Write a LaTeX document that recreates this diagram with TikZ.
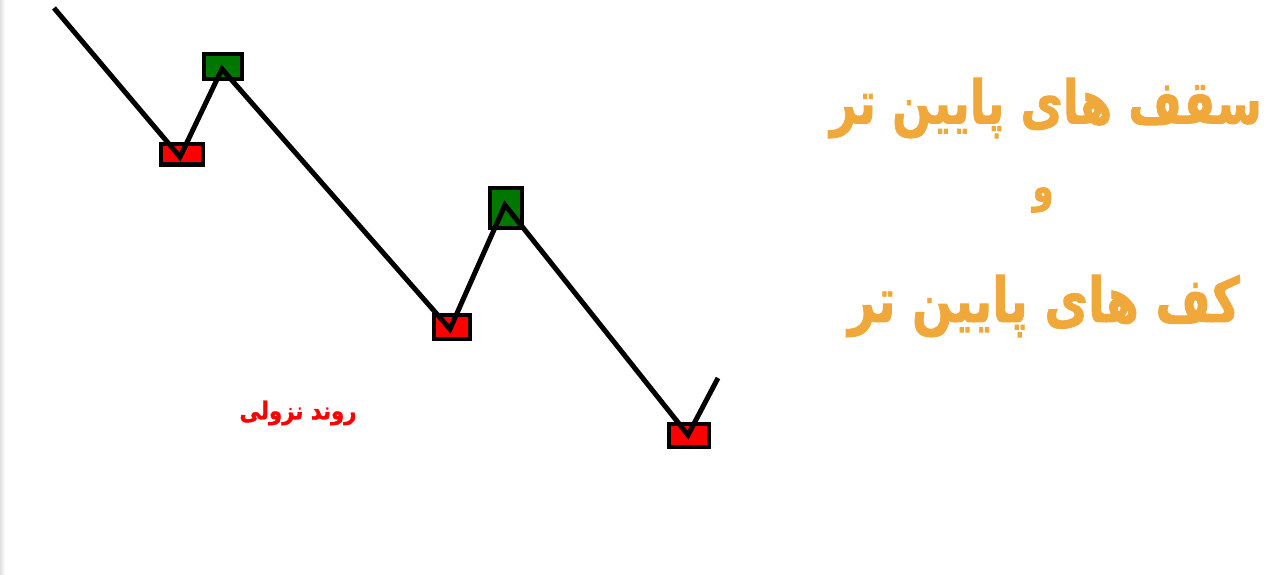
\documentclass[tikz,border=0pt]{standalone}
\usepackage{fontspec}
\usepackage{graphicx}
\TeXXeTstate=1
\newfontfamily\arabicfont[Script=Arabic,FakeBold=1.5]{DejaVu Sans}
\definecolor{titleorange}{RGB}{240,168,58}
\definecolor{pivotgreen}{RGB}{0,120,0}
\definecolor{pivotred}{RGB}{255,0,0}
\tikzset{
  pivotbox/.style={draw=black, line width=4pt, inner sep=0pt, rectangle},
  lowbox/.style={pivotbox, fill=pivotred},
  highbox/.style={pivotbox, fill=pivotgreen},
  trendline/.style={draw=black, line width=5pt, line join=miter},
  titletext/.style={text=titleorange, inner sep=0pt},
}
\begin{document}
\begin{tikzpicture}[x=1pt, y=-1pt]
\useasboundingbox (0,0) rectangle (1277,575);
\fill[white] (0,0) rectangle (1277,575);
\shade[left color=black!12, right color=white] (0,0) rectangle (5,575);
% pivot boxes
\node[lowbox, minimum width=42pt, minimum height=20pt] (low1) at (181.5,154.5) {};
\node[highbox, minimum width=38pt, minimum height=25pt] (high1) at (222.5,66.5) {};
\node[lowbox, minimum width=36pt, minimum height=24pt] (low2) at (452,326.5) {};
\node[highbox, minimum width=32pt, minimum height=40pt] (high2) at (505.5,207.5) {};
\node[lowbox, minimum width=40pt, minimum height=23pt] (low3) at (689,435) {};
% vertices
\coordinate (start) at (54,8);
\coordinate (v1) at (180,157);
\coordinate (v2) at (222,69);
\coordinate (v3) at (450,329);
\coordinate (v4) at (505,205);
\coordinate (v5) at (688,435);
\coordinate (finish) at (718,378);
\draw[trendline] (start) -- (v1) -- (v2) -- (v3) -- (v4) -- (v5) -- (finish);
% labels
\node[text=red, inner sep=0pt] (trend) at (298,413) {\scalebox{1}[1.15]{\resizebox{117pt}{!}{\arabicfont\bfseries\beginR روند نزولی\endR}}};
\node[titletext] (line1) at (1046,108) {\scalebox{1}[1.3]{\resizebox{432pt}{!}{\arabicfont\bfseries\beginR سقف های پایین تر\endR}}};
\node[titletext] (and) at (1043,200) {\scalebox{1}[1.3]{\arabicfont\bfseries\fontsize{34}{40}\selectfont\beginR و\endR}};
\node[titletext] (line2) at (1044,306) {\scalebox{1}[1.3]{\resizebox{392pt}{!}{\arabicfont\bfseries\beginR کف های پایین تر\endR}}};
\end{tikzpicture}
\end{document}
